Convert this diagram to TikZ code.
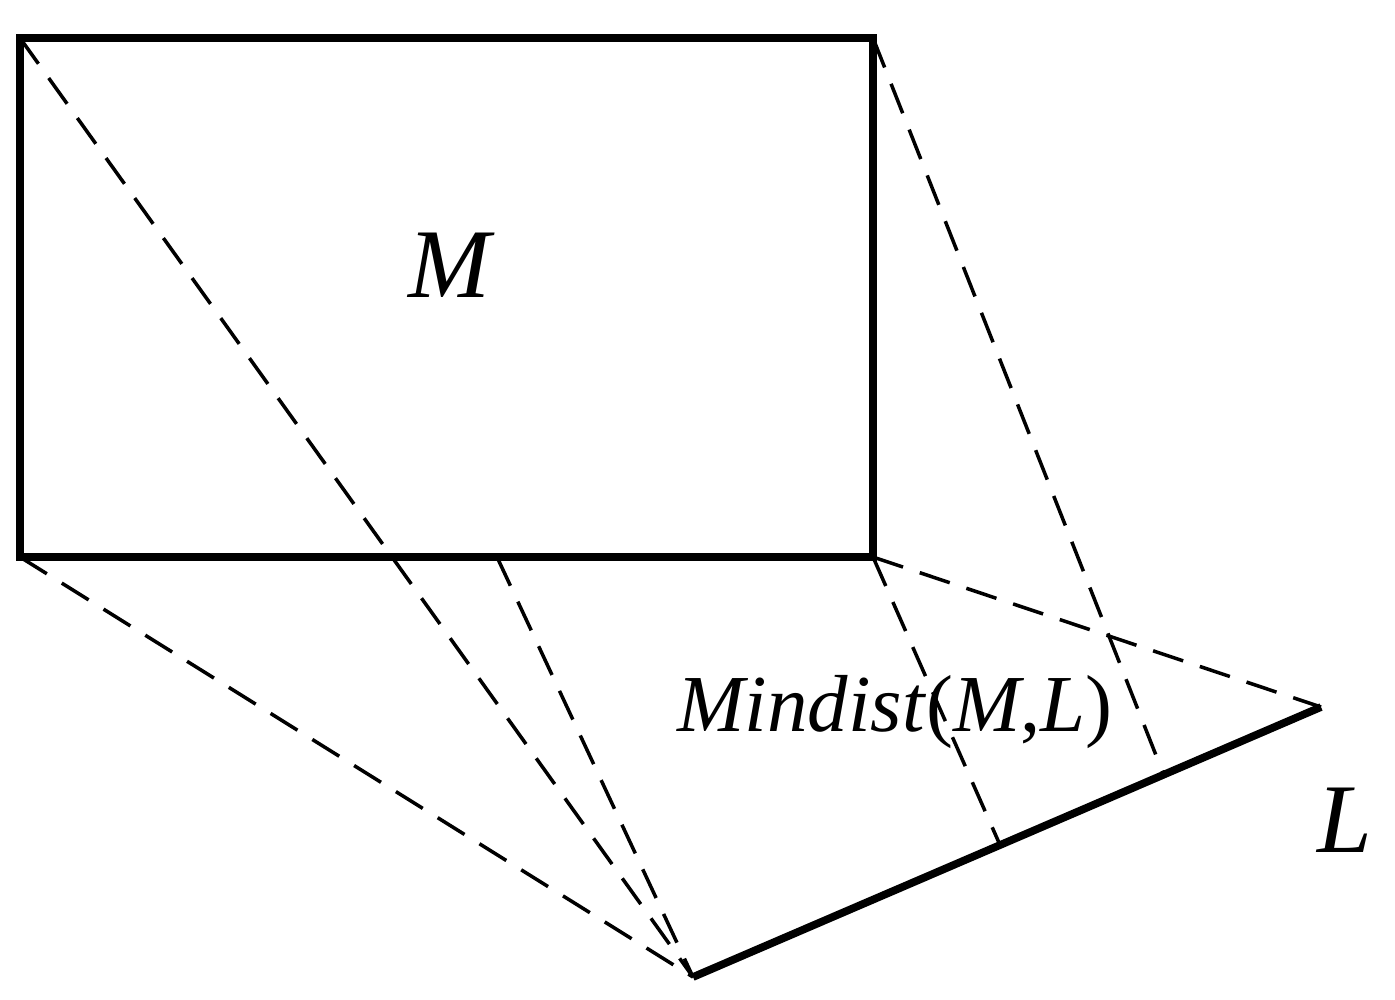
\documentclass[tikz,border=0pt]{standalone}
\usepackage{fontspec}
\setmainfont{Liberation Serif}
\begin{document}
\begin{tikzpicture}[x=0.01cm,y=-0.01cm,
  solid edge/.style={line width=2.2pt},
  dash edge/.style={line width=1pt,dash pattern=on 9pt off 5pt},
  lbl/.style={font=\itshape\fontsize{28}{30}\selectfont}]
\useasboundingbox (0,0) rectangle (1395,999);
\coordinate (A) at (20,38);
\coordinate (B) at (873,38);
\coordinate (C) at (873,557);
\coordinate (D) at (20,557);
\coordinate (P) at (693,977);
\coordinate (Q) at (1321,707);
\coordinate (E) at (497,557);
\coordinate (F) at (1163,773);
\coordinate (G) at (1000,845);
\draw[solid edge] (A) -- (B) -- (C) -- (D) -- cycle;
\draw[solid edge] (P) -- (Q);
\draw[dash edge] (A) -- (P);
\draw[dash edge] (D) -- (P);
\draw[dash edge] (E) -- (P);
\draw[dash edge] (B) -- (F);
\draw[dash edge] (C) -- (Q);
\draw[dash edge] (C) -- (G);
\node[lbl] (m) at (450,265) {M};
\node[font=\fontsize{23}{25}\selectfont] (md) at (895,712) {\textit{Mindist}(\textit{M},\textit{L})};
\node[lbl] (l) at (1345,820) {L};
\end{tikzpicture}
\end{document}
